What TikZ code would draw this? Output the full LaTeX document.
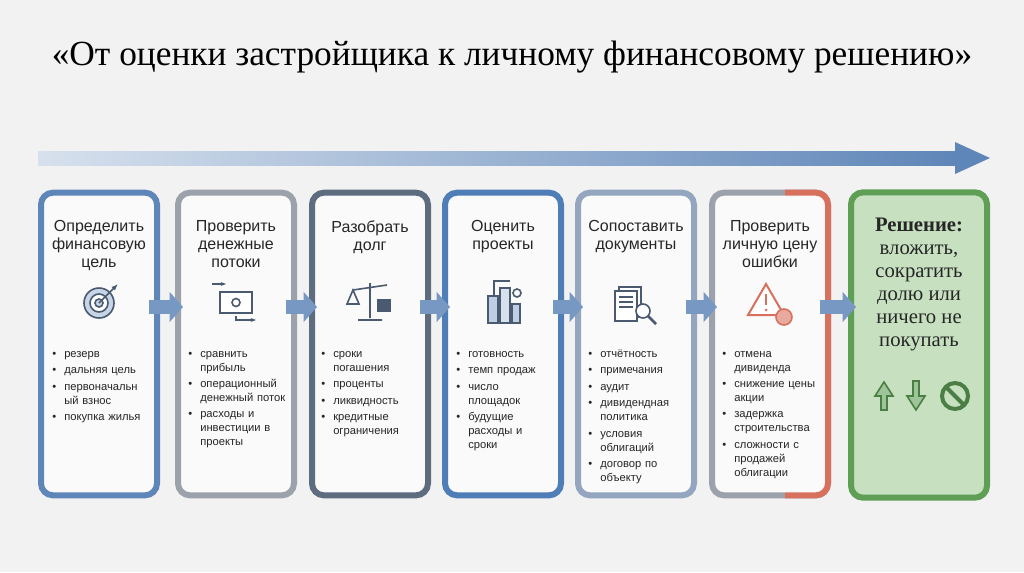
\documentclass[tikz,border=0pt]{standalone}
\usepackage{fontspec}
\setmainfont{Liberation Sans}
\newfontfamily\serif{Liberation Serif}
\usetikzlibrary{arrows.meta,calc}
\definecolor{bga}{HTML}{F2F2F2}
\definecolor{ca}{HTML}{5F86B8}
\definecolor{cb}{HTML}{9BA2AB}
\definecolor{cc}{HTML}{5E6C80}
\definecolor{cd}{HTML}{4F7DB8}
\definecolor{ce}{HTML}{93A5BF}
\definecolor{cf}{HTML}{D8705E}
\definecolor{cg}{HTML}{5E9E55}
\definecolor{cgl}{HTML}{C6E0C0}
\definecolor{ic}{HTML}{4A5A70}
\newcommand\itm[1]{\par\noindent\hangindent=9pt\hangafter=1\makebox[9pt][l]{\textbullet}#1\par\vspace{2pt}}
\tikzset{
  step/.style={draw=#1, line width=4.5pt, fill=white!60!bga, rounded corners=9pt,
    minimum width=87pt, minimum height=227pt},
  head/.style={anchor=north, align=center, font=\fontsize{12}{13.5}\selectfont, text=black!85},
  items/.style={anchor=north west, text width=76pt, align=left, inner sep=0pt,
    font=\fontsize{8.4}{10.4}\selectfont, text=black!85},
  flow/.style={line width=11pt, color=ca!85, -{Triangle[length=10pt,width=22pt]}},
  icon/.style={ic, line width=1.2pt}
}
\begin{document}
\begin{tikzpicture}[x=0.75pt,y=-0.75pt]
\fill[bga] (0,0) rectangle (1024,572);
\useasboundingbox (0,0) rectangle (1024,572);
% title
\node (title) at (512,57) {\serif\fontsize{26.5}{30}\selectfont «От оценки застройщика к личному финансовому решению»};
% top arrow
\shade[left color=ca!25, right color=ca] (38,151) rectangle (958,165);
\fill[ca] (955,142) -- (990,158) -- (955,174) -- cycle;
% boxes
\node (b1) [step=ca] at (99,344) {};
\node (b2) [step=cb] at (236,344) {};
\node (b3) [step=cc] at (370,344) {};
\node (b4) [step=cd] at (503,344) {};
\node (b5) [step=ce] at (636,344) {};
\node (b6) [step=cb] at (770,344) {};
\begin{scope}
\clip (785,150) rectangle (850,520);
\node [step=cf] at (770,344) {};
\end{scope}
\node (b7) [step=cg, fill=cgl, minimum width=102pt, minimum height=229pt] at (919,345) {};
% connectors
\foreach \a/\b in {b1/b2,b2/b3,b3/b4,b4/b5,b5/b6,b6/b7}
  \draw[flow] ($(\a.east |- 0,307)+(-11,0)$) -- ($(\b.west |- 0,307)+(8,0)$);
% headings
\node (h1) [head] at (99,216) {Определить\\финансовую\\цель};
\node (h2) [head] at (236,216) {Проверить\\денежные\\потоки};
\node (h3) [head] at (370,216) {Разобрать\\долг};
\node (h4) [head] at (503,216) {Оценить\\проекты};
\node (h5) [head] at (636,216) {Сопоставить\\документы};
\node (h6) [head] at (770,216) {Проверить\\личную цену\\ошибки};
\node (h7) [anchor=north, align=center, text=black!85, font=\serif\fontsize{15.5}{17.3}\selectfont] at (919,213)
  {\textbf{Решение:}\\вложить,\\сократить\\долю или\\ничего не\\покупать};
% icons
\draw[icon, fill=ca!35] (99,303) circle (15);
\draw[icon, fill=white] (99,303) circle (9);
\draw[icon, fill=ca!35] (99,303) circle (4);
\draw[icon, -{Latex[length=5pt]}] (99,303) -- (118,284);
\draw[icon, fill=white] (220,292) rectangle (252,313);
\draw[icon] (236,302.5) circle (4);
\draw[icon, -{Stealth[length=4pt]}] (212,284) -- (226,284);
\draw[icon, -{Stealth[length=4pt]}] (236,316) |- (256,320);
\draw[icon] (370,283) -- (370,318) (358,320) -- (382,320) (353,290) -- (387,285);
\draw[icon] (353,290) -- (347,304) -- (359,304) -- cycle;
\draw[icon, fill=ic] (378,300) rectangle (390,311);
\draw[icon] (381,300) arc (180:0:3);
\draw[icon, fill=ca!40] (488,296) rectangle (498,323);
\draw[icon, fill=ca!25] (500,288) rectangle (510,323);
\draw[icon, fill=ca!40] (512,304) rectangle (520,323);
\draw[icon] (494,296) -- (494,281) -- (510,281);
\draw[icon] (517,293) circle (4);
\draw[icon, fill=white] (619,287) rectangle (641,317);
\draw[icon, fill=white] (615,291) rectangle (637,321);
\foreach \yy in {297,302,307} \draw[ic, line width=0.8pt] (619,\yy) -- (633,\yy);
\draw[icon, fill=white] (643,311) circle (7);
\draw[icon, line width=2pt] (648,316) -- (656,324);
\draw[cf, line width=1.5pt, fill=white] (766,284) -- (784,315) -- (748,315) -- cycle;
\draw[cf, line width=2pt] (766,294) -- (766,305);
\fill[cf] (766,310) circle (1.5);
\draw[cf, line width=1.2pt, fill=cf!60] (784,317) circle (8);
\draw[cg!80!black, line width=1.2pt, fill=cg!60] (881,410) -- (881,396) -- (875,396) -- (884,382) -- (893,396) -- (887,396) -- (887,410) -- cycle;
\draw[cg!80!black, line width=1.2pt, fill=cg!60] (913,381) -- (913,396) -- (907,396) -- (916,410) -- (925,396) -- (919,396) -- (919,381) -- cycle;
\draw[cg!80!black, line width=3pt] (955,396) circle (13);
\draw[cg!80!black, line width=3pt] (946,387) -- (964,405);
% lists
\node (l1) [items] at (52,343) {\itm{резерв}\itm{дальняя цель}\itm{первоначальн ый взнос}\itm{покупка жилья}};
\node (l2) [items] at (188,343) {\itm{сравнить прибыль}\itm{операционный денежный поток}\itm{расходы и инвестиции в проекты}};
\node (l3) [items] at (321,343) {\itm{сроки\newline погашения}\itm{проценты}\itm{ликвидность}\itm{кредитные ограничения}};
\node (l4) [items] at (456,343) {\itm{готовность}\itm{темп продаж}\itm{число\newline площадок}\itm{будущие\newline расходы и\newline сроки}};
\node (l5) [items] at (588,343) {\itm{отчётность}\itm{примечания}\itm{аудит}\itm{дивидендная политика}\itm{условия облигаций}\itm{договор по объекту}};
\node (l6) [items] at (722,343) {\itm{отмена дивиденда}\itm{снижение цены акции}\itm{задержка строительства}\itm{сложности с\newline продажей облигации}};
\end{tikzpicture}
\end{document}
